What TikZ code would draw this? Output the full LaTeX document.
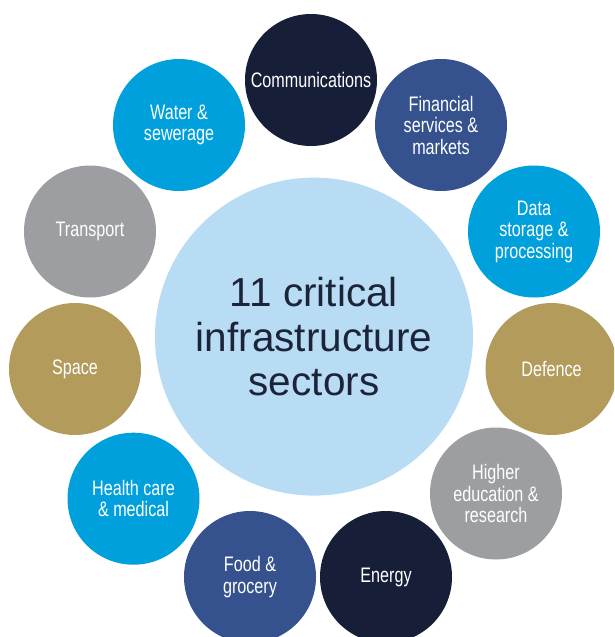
\documentclass[tikz,border=0pt]{standalone}
\usepackage{fontspec}
\setmainfont{Liberation Sans}
\newfontfamily\condensed{Liberation Sans}[FakeStretch=0.77]
\usetikzlibrary{shapes}

\definecolor{navy}{HTML}{161F37}
\definecolor{midblue}{HTML}{35528F}
\definecolor{cyan}{HTML}{00A0DC}
\definecolor{stone}{HTML}{9D9EA1}
\definecolor{gold}{HTML}{B39B5C}
\definecolor{paleblue}{HTML}{B8DCF3}
\definecolor{ink}{HTML}{1C2439}

\begin{document}
\begin{tikzpicture}[x=1pt, y=-1pt,
    sector/.style={circle, minimum size=132pt, inner sep=0pt, text=white, align=center,
        font=\condensed\fontsize{21}{21.5}\selectfont},
    hub/.style={circle, minimum size=318pt, inner sep=0pt, fill=paleblue, text=ink, align=center,
        font=\fontsize{40.5}{44.5}\selectfont}]
    \clip (0,0) rectangle (614,637);

    % Centre
    \node[hub] (sectors) at (314,336.6) {11 critical\\infrastructure\\sectors};

    % Ring of sectors, clockwise from the top
    \node[sector, fill=navy] (comms) at (311,80) {Communications};
    \node[sector, fill=midblue] (finance) at (441,125) {Financial\\services \&\\markets};
    \node[sector, fill=cyan] (data) at (534,231.5) {Data\\storage \&\\processing};
    \node[sector, fill=gold] (defence) at (551.5,369) {Defence};
    \node[sector, fill=stone] (education) at (496,493.5) {Higher\\education \&\\research};
    \node[sector, fill=navy] (energy) at (386,577) {Energy};
    \node[sector, fill=midblue] (food) at (250,577) {Food \&\\grocery};
    \node[sector, fill=cyan] (health) at (133.5,498.7) {Health care\\\& medical};
    \node[sector, fill=gold] (space) at (75,369) {Space};
    \node[sector, fill=stone] (transport) at (90,231.5) {Transport};
    \node[sector, fill=cyan] (water) at (179,125) {Water \&\\sewerage};
\end{tikzpicture}
\end{document}
